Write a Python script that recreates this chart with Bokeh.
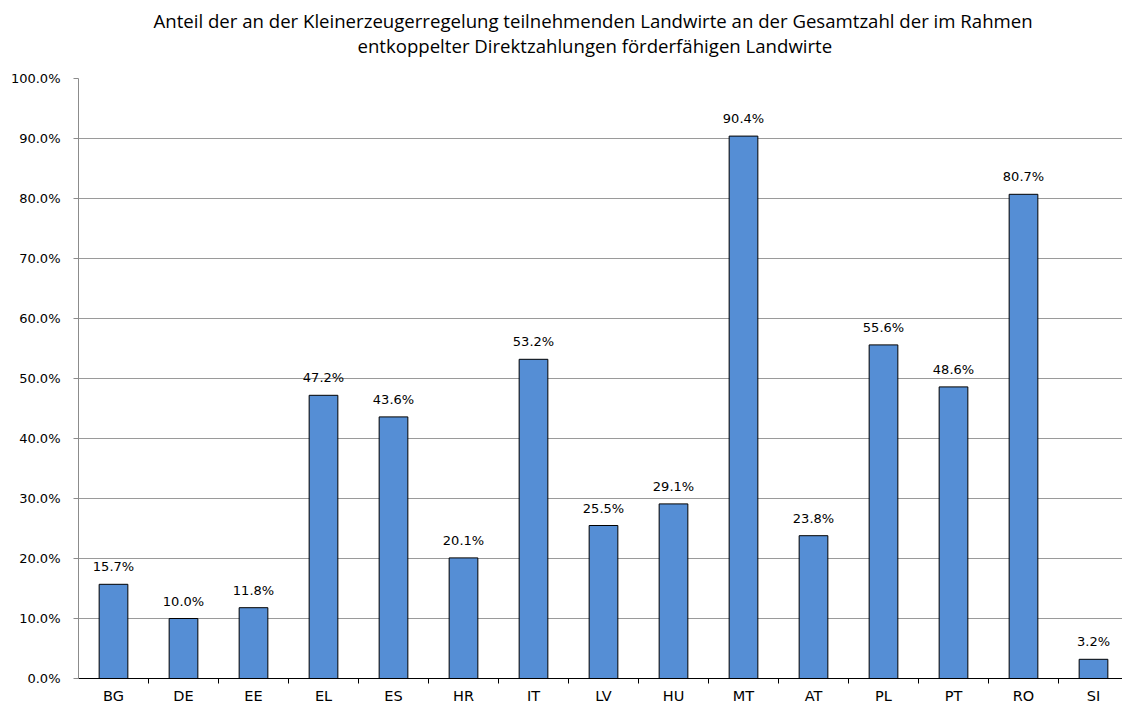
from bokeh.plotting import figure
from bokeh.models import (ColumnDataSource, Range1d, FixedTicker, PrintfTickFormatter, LabelSet, Title)
from bokeh.core.properties import value
from bokeh.embed import file_html
from bokeh.resources import INLINE

categories = ["BG", "DE", "EE", "EL", "ES", "HR", "IT", "LV", "HU", "MT", "AT", "PL", "PT", "RO", "SI"]
values = [15.7, 10.0, 11.8, 47.2, 43.6, 20.1, 53.2, 25.5, 29.1, 90.4, 23.8, 55.6, 48.6, 80.7, 3.2]
y_ticks = [0, 10, 20, 30, 40, 50, 60, 70, 80, 90, 100]
title_line1 = "Anteil der an der Kleinerzeugerregelung teilnehmenden Landwirte an der Gesamtzahl der im Rahmen"
title_line2 = "entkoppelter Direktzahlungen förderfähigen Landwirte"

xs = [i + 0.5 for i in range(len(categories))]
labels = [f"{v:.1f}%" for v in values]
src = ColumnDataSource(dict(x=xs, top=values, label=labels))

p = figure(width=1122, height=706, output_backend="svg", toolbar_location=None,
           x_range=Range1d(0, 1044 / 70), y_range=Range1d(0, 100),
           min_border_left=78, min_border_right=0, min_border_bottom=28, min_border_top=78)
p.outline_line_color = None
p.background_fill_color = "white"
p.border_fill_color = "white"

p.vbar(x="x", top="top", width=0.41, bottom=0, source=src,
       fill_color="#558ED5", line_color="black", line_width=1)

p.add_layout(LabelSet(x="x", y="top", text="label", source=src, text_align="center",
                      text_baseline="alphabetic", y_offset=13, text_font=value("DejaVu Sans"),
                      text_font_size=value("13px"), text_color="#000000"))

# x axis
p.xaxis.ticker = FixedTicker(ticks=xs, minor_ticks=list(range(1, len(categories))))
p.xaxis.major_label_overrides = {x: c for x, c in zip(xs, categories)}
p.xaxis.major_tick_out = 0
p.xaxis.major_tick_in = 0
p.xaxis.minor_tick_out = 5
p.xaxis.minor_tick_in = 0
p.xaxis.minor_tick_line_color = "black"
p.xaxis.axis_line_color = "black"
p.xaxis.major_label_standoff = 4
p.xaxis.major_label_text_font = "DejaVu Sans"
p.xaxis.major_label_text_font_size = "14.5px"
p.xaxis.major_label_text_color = "#000000"

# y axis
p.yaxis.ticker = FixedTicker(ticks=y_ticks, minor_ticks=[])
p.yaxis.formatter = PrintfTickFormatter(format="%.1f%%")
p.yaxis.major_tick_out = 5
p.yaxis.major_tick_in = 0
p.yaxis.major_tick_line_color = "#8C8C8C"
p.yaxis.axis_line_color = "#8C8C8C"
p.yaxis.major_label_standoff = 13
p.yaxis.major_label_text_font = "DejaVu Sans"
p.yaxis.major_label_text_font_size = "13px"
p.yaxis.major_label_text_color = "#000000"

p.xgrid.grid_line_color = None
p.ygrid.grid_line_color = "#9A9A9A"
p.ygrid.ticker = FixedTicker(ticks=y_ticks)

p.title.visible = False
t2 = Title(text=title_line2, align="left", offset=279, text_font="Open Sans",
           text_font_size="18.6px", text_font_style="normal", text_color="#000000", standoff=41)
t1 = Title(text=title_line1, align="left", offset=75, text_font="Open Sans",
           text_font_size="18.6px", text_font_style="normal", text_color="#000000", standoff=-44)
p.add_layout(t2, "above")
p.add_layout(t1, "above")

open("out.html", "w").write(file_html(p, INLINE))
